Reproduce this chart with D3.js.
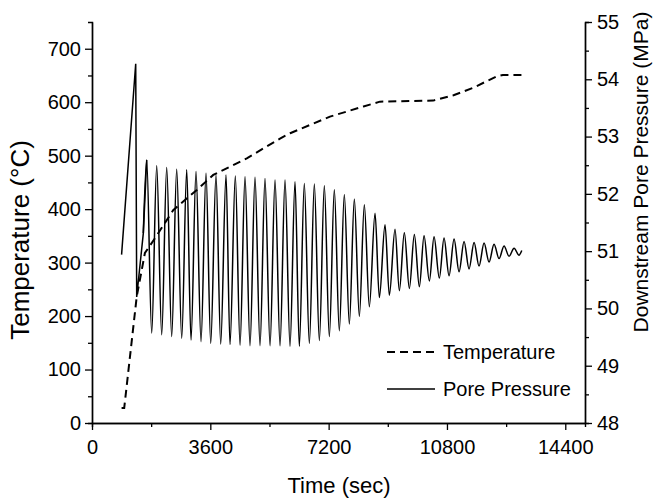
<!DOCTYPE html>
<html>
<head>
<meta charset="utf-8">
<script src="https://cdn.jsdelivr.net/npm/d3@7"></script>
<style>
  body { margin: 0; background: #fff; }
  text { font-family: "Liberation Sans", Arial, sans-serif; fill: #000; }
</style>
</head>
<body>
<div id="chart"></div>
<script>
// temperature (dashed, left axis)
const tempTime = [900, 980, 1360, 1610, 1920, 2470, 3190, 3690, 4710, 5720, 6030, 7240, 8260, 8760, 10380, 11000, 11600, 12300, 12500, 13080];
const tempC    = [28, 28, 236, 318, 346, 398, 436, 464, 495, 532, 542, 573, 592, 601, 603, 613, 627, 648, 651, 651];

// pore pressure (solid, right axis) - start, spike, then peaks/troughs of the oscillation
const poreTime = [900, 1330, 1360, 1561,
  1665, 1817, 1969, 2121, 2273, 2425, 2577, 2730, 2882, 3013, 3165, 3317, 3469, 3612, 3773, 3916,
  4078, 4199, 4361, 4504, 4656, 4808, 4960, 5112, 5264, 5417, 5569, 5721, 5873, 6025, 6177, 6308,
  6460, 6613, 6765, 6917, 7069, 7221, 7373, 7525, 7677, 7830, 7982, 8134, 8286, 8438, 8612, 8743,
  8916, 9047, 9220, 9351, 9503, 9656, 9808, 9960, 10103, 10264, 10407, 10568, 10711, 10864, 11016, 11168,
  11320, 11472, 11625, 11776, 11929, 12081, 12233, 12385, 12537, 12689, 12842, 12993, 13076];
const porePressure = [50.94, 54.27, 50.20, 51.31,
  52.59, 49.57, 52.49, 49.54, 52.46, 49.51, 52.43, 49.48, 52.42, 49.45, 52.39, 49.42, 52.36, 49.39, 52.33, 49.38,
  52.33, 49.37, 52.31, 49.36, 52.30, 49.35, 52.29, 49.35, 52.27, 49.35, 52.24, 49.35, 52.24, 49.34, 52.21, 49.34,
  52.18, 49.39, 52.17, 49.44, 52.14, 49.51, 52.07, 49.61, 51.99, 49.73, 51.91, 49.86, 51.81, 50.03, 51.66, 50.19,
  51.46, 50.23, 51.38, 50.31, 51.32, 50.35, 51.29, 50.38, 51.27, 50.48, 51.25, 50.53, 51.23, 50.57, 51.21, 50.64,
  51.17, 50.69, 51.15, 50.74, 51.14, 50.81, 51.12, 50.87, 51.09, 50.91, 51.05, 50.93, 51.01];

const timeTicks = [0, 3600, 7200, 10800, 14400];
const timeMinor = [1800, 5400, 9000, 12600];
const tempTicks = [0, 100, 200, 300, 400, 500, 600, 700];
const tempMinor = [50, 150, 250, 350, 450, 550, 650];
const poreTicks = [48, 49, 50, 51, 52, 53, 54, 55];
const poreMinor = [48.5, 49.5, 50.5, 51.5, 52.5, 53.5, 54.5];

const width = 655, height = 498;
const margin = {top: 22, right: 70, bottom: 75, left: 92};

const svg = d3.select("#chart").append("svg")
    .attr("width", width).attr("height", height);

const x = d3.scaleLinear().domain([0, 15000]).range([margin.left, width - margin.right]);
const yT = d3.scaleLinear().domain([0, 750]).range([height - margin.bottom, margin.top]);
const yP = d3.scaleLinear().domain([48, 55]).range([height - margin.bottom, margin.top]);

const styleAxis = g => {
    g.attr("font-size", 20).attr("font-family", '"Liberation Sans", Arial, sans-serif');
    g.selectAll("path.domain").attr("stroke", "#000").attr("stroke-width", 1.4);
    g.selectAll(".tick line").attr("stroke", "#000").attr("stroke-width", 1.3);
    g.selectAll("text").attr("fill", "#000");
};

// minor ticks first, then main axes
svg.append("g").attr("transform", `translate(0,${yT(0)})`)
    .call(d3.axisBottom(x).tickValues(timeMinor).tickSize(4).tickFormat(""))
    .call(styleAxis);
svg.append("g").attr("transform", `translate(${x(0)},0)`)
    .call(d3.axisLeft(yT).tickValues(tempMinor).tickSize(4).tickFormat(""))
    .call(styleAxis);
svg.append("g").attr("transform", `translate(${x(15000)},0)`)
    .call(d3.axisRight(yP).tickValues(poreMinor).tickSize(4).tickFormat(""))
    .call(styleAxis);

svg.append("g").attr("transform", `translate(0,${yT(0)})`)
    .call(d3.axisBottom(x).tickValues(timeTicks).tickSize(7).tickSizeOuter(0).tickPadding(10).tickFormat(d3.format("d")))
    .call(styleAxis);
svg.append("g").attr("transform", `translate(${x(0)},0)`)
    .call(d3.axisLeft(yT).tickValues(tempTicks).tickSize(7).tickSizeOuter(0).tickPadding(4).tickFormat(d3.format("d")))
    .call(styleAxis);
svg.append("g").attr("transform", `translate(${x(15000)},0)`)
    .call(d3.axisRight(yP).tickValues(poreTicks).tickSize(7).tickSizeOuter(0).tickPadding(5).tickFormat(d3.format("d")))
    .call(styleAxis);

// axis titles
svg.append("text").attr("x", 339).attr("y", 493)
    .attr("text-anchor", "middle").attr("font-size", 22).text("Time (sec)");
svg.append("text").attr("transform", "translate(29,240) rotate(-90)")
    .attr("text-anchor", "middle").attr("font-size", 26).text("Temperature (°C)");
svg.append("text").attr("transform", "translate(648,172) rotate(-90)")
    .attr("text-anchor", "middle").attr("font-size", 21).text("Downstream Pore Pressure (MPa)");

// temperature line
const tempData = tempTime.map((t, i) => [t, tempC[i]]);
svg.append("path").datum(tempData)
    .attr("fill", "none").attr("stroke", "#000").attr("stroke-width", 2)
    .attr("stroke-dasharray", "8,5")
    .attr("d", d3.line().x(d => x(d[0])).y(d => yT(d[1])));

// pore pressure: straight spike, then smooth oscillation
const poreData = poreTime.map((t, i) => [t, porePressure[i]]);
const poreLine = d3.line().x(d => x(d[0])).y(d => yP(d[1]));
svg.append("path").datum(poreData.slice(0, 5))
    .attr("fill", "none").attr("stroke", "#000").attr("stroke-width", 1.5)
    .attr("d", poreLine);
svg.append("path").datum(poreData.slice(3))
    .attr("fill", "none").attr("stroke", "#000").attr("stroke-width", 1.5)
    .attr("d", poreLine.curve(d3.curveMonotoneX));

// legend
const legend = svg.append("g");
legend.append("line").attr("x1", 387).attr("x2", 434).attr("y1", 352).attr("y2", 352)
    .attr("stroke", "#000").attr("stroke-width", 2).attr("stroke-dasharray", "8,5");
legend.append("text").attr("x", 443).attr("y", 359).attr("font-size", 20).text("Temperature");
legend.append("line").attr("x1", 387).attr("x2", 435).attr("y1", 389).attr("y2", 389)
    .attr("stroke", "#000").attr("stroke-width", 1.6);
legend.append("text").attr("x", 443).attr("y", 396).attr("font-size", 20).text("Pore Pressure");
</script>
</body>
</html>
